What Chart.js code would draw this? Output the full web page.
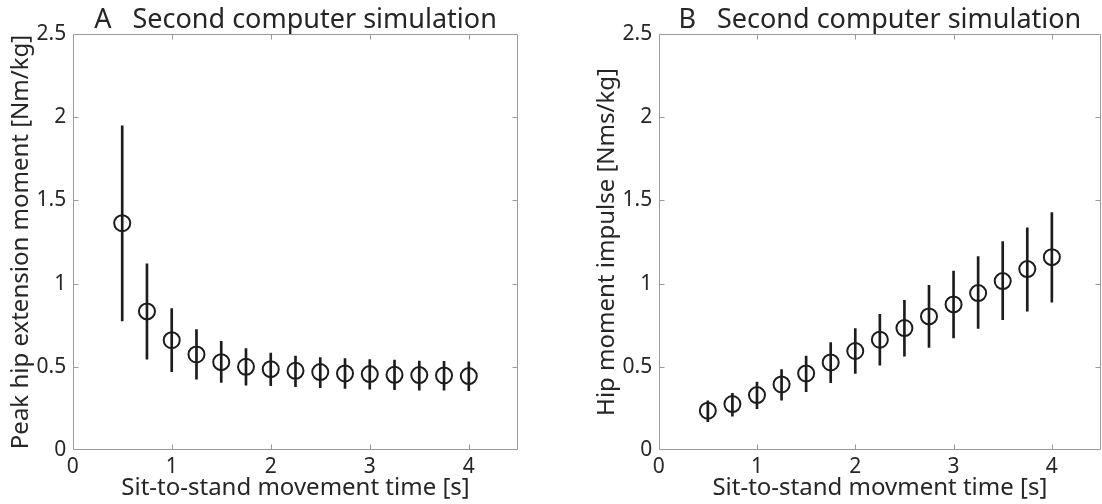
<!DOCTYPE html>
<html>
<head>
<meta charset="utf-8">
<script src="https://cdn.jsdelivr.net/npm/chart.js@4/dist/chart.umd.min.js"></script>
<style>
  html, body { margin: 0; padding: 0; background: #fff; }
  #wrap { position: relative; width: 1102px; height: 504px; overflow: hidden; }
  canvas { position: absolute; top: 0; }
</style>
</head>
<body>
<div id="wrap">
  <canvas id="cA" width="551" height="504" style="left:0px"></canvas>
  <canvas id="cB" width="551" height="504" style="left:551px"></canvas>
</div>
<script>
// ---- data ----
const times = [0.5, 0.75, 1.0, 1.25, 1.5, 1.75, 2.0, 2.25, 2.5, 2.75, 3.0, 3.25, 3.5, 3.75, 4.0];

const momentMean  = [1.363, 0.833, 0.660, 0.574, 0.528, 0.500, 0.486, 0.476, 0.468, 0.460, 0.456, 0.452, 0.450, 0.448, 0.444];
const momentUpper = [1.948, 1.119, 0.850, 0.724, 0.653, 0.610, 0.583, 0.565, 0.556, 0.550, 0.544, 0.540, 0.535, 0.533, 0.530];
const momentLower = [0.775, 0.546, 0.470, 0.426, 0.406, 0.390, 0.386, 0.380, 0.374, 0.370, 0.366, 0.362, 0.360, 0.360, 0.356];

const impulseMean  = [0.236, 0.276, 0.330, 0.394, 0.460, 0.526, 0.595, 0.663, 0.733, 0.803, 0.875, 0.943, 1.015, 1.087, 1.159];
const impulseUpper = [0.296, 0.340, 0.408, 0.484, 0.564, 0.646, 0.730, 0.815, 0.900, 0.990, 1.075, 1.163, 1.253, 1.335, 1.427];
const impulseLower = [0.170, 0.204, 0.248, 0.300, 0.350, 0.404, 0.460, 0.510, 0.564, 0.616, 0.673, 0.730, 0.783, 0.835, 0.889];

const xTickValues = [0, 1, 2, 3, 4];
const yTickValues = [0, 0.5, 1, 1.5, 2, 2.5];

const titleA = 'A   Second computer simulation';
const titleB = 'B   Second computer simulation';
const xLabelA = 'Sit-to-stand movement time [s]';
const xLabelB = 'Sit-to-stand movment time [s]';
const yLabelA = 'Peak hip extension moment [Nm/kg]';
const yLabelB = 'Hip moment impulse [Nms/kg]';

// ---- styling ----
const FONT = "'Noto Sans', 'DejaVu Sans', sans-serif";
const TEXT = '#262626';
const MARK = '#1c1c1c';
const AXIS = '#9a9a9a';

const boxPlugin = {
  id: 'matlabBox',
  afterDatasetsDraw(chart) {
    const { ctx, chartArea: a, scales } = chart;
    ctx.save();
    ctx.strokeStyle = AXIS;
    ctx.lineWidth = 1;
    ctx.beginPath();
    const L = Math.round(a.left) + 0.5, R = Math.round(a.right) - 0.5;
    const T = Math.round(a.top) + 0.5, B = Math.round(a.bottom) - 0.5;
    ctx.rect(L, T, R - L, B - T);
    const tl = 5;
    scales.x.ticks.forEach(t => {
      if (t.value <= scales.x.min || t.value >= scales.x.max) return;
      const px = Math.round(scales.x.getPixelForValue(t.value)) + 0.5;
      ctx.moveTo(px, B); ctx.lineTo(px, B - tl);
      ctx.moveTo(px, T); ctx.lineTo(px, T + tl);
    });
    scales.y.ticks.forEach(t => {
      if (t.value <= scales.y.min || t.value >= scales.y.max) return;
      const py = Math.round(scales.y.getPixelForValue(t.value)) + 0.5;
      ctx.moveTo(L, py); ctx.lineTo(L + tl, py);
      ctx.moveTo(R, py); ctx.lineTo(R - tl, py);
    });
    ctx.stroke();
    ctx.restore();
  }
};

function makePanel(id, title, xLabel, yLabel, mean, lower, upper, padLeft, padRight) {
  const bars = times.map((t, i) => ({ x: t, y: [lower[i], upper[i]] }));
  const pts = times.map((t, i) => ({ x: t, y: mean[i] }));
  return new Chart(document.getElementById(id), {
    type: 'scatter',
    data: {
      datasets: [
        {
          type: 'bar',
          data: bars,
          backgroundColor: MARK,
          borderWidth: 0,
          barThickness: 2,
          order: 2
        },
        {
          type: 'scatter',
          data: pts,
          pointStyle: 'circle',
          pointRadius: 8,
          pointHoverRadius: 8,
          pointBorderWidth: 2,
          pointBorderColor: MARK,
          pointBackgroundColor: 'rgba(0,0,0,0)',
          order: 1
        }
      ]
    },
    options: {
      responsive: false,
      animation: false,
      devicePixelRatio: 1,
      layout: { autoPadding: false, padding: { left: padLeft, right: padRight, top: 0, bottom: 0 } },
      plugins: {
        legend: { display: false },
        tooltip: { enabled: false },
        title: {
          display: true,
          text: title,
          fullSize: false,
          color: TEXT,
          font: { family: FONT, size: 27, weight: 'normal', lineHeight: 1 },
          padding: { top: 7, bottom: 0 }
        }
      },
      scales: {
        x: {
          type: 'linear',
          min: 0, max: 4.5,
          offset: false,
          afterFit(s) { s.height = 54; s.paddingLeft = 0; s.paddingRight = 0; },
          afterBuildTicks(s) {
            s.ticks = xTickValues.map(v => ({ value: v }));
          },
          ticks: {
            color: TEXT,
            font: { family: FONT, size: 21 },
            padding: 4.3,
            maxRotation: 0,
            autoSkip: false,
            callback: v => String(v)
          },
          grid: { display: false, drawTicks: false },
          border: { display: false },
          title: {
            display: true,
            text: xLabel,
            color: TEXT,
            font: { family: FONT, size: 24, weight: 'normal' },
            padding: { top: 0, bottom: 1.9 }
          }
        },
        y: {
          type: 'linear',
          min: 0, max: 2.5,
          afterFit(s) { s.width = 72.7; },
          afterBuildTicks(s) {
            s.ticks = yTickValues.map(v => ({ value: v }));
          },
          ticks: {
            color: TEXT,
            font: { family: FONT, size: 21 },
            padding: 6.5,
            autoSkip: false,
            callback: v => String(v)
          },
          grid: { display: false, drawTicks: false },
          border: { display: false },
          title: {
            display: true,
            text: yLabel,
            color: TEXT,
            font: { family: FONT, size: 24, weight: 'normal' },
            padding: { top: 6.6, bottom: 0 }
          }
        }
      }
    },
    plugins: [boxPlugin]
  });
}

makePanel('cA', titleA, xLabelA, yLabelA, momentMean, momentLower, momentUpper, 0, 32.7);
makePanel('cB', titleB, xLabelB, yLabelB, impulseMean, impulseLower, impulseUpper, 35, 1);
</script>
</body>
</html>
